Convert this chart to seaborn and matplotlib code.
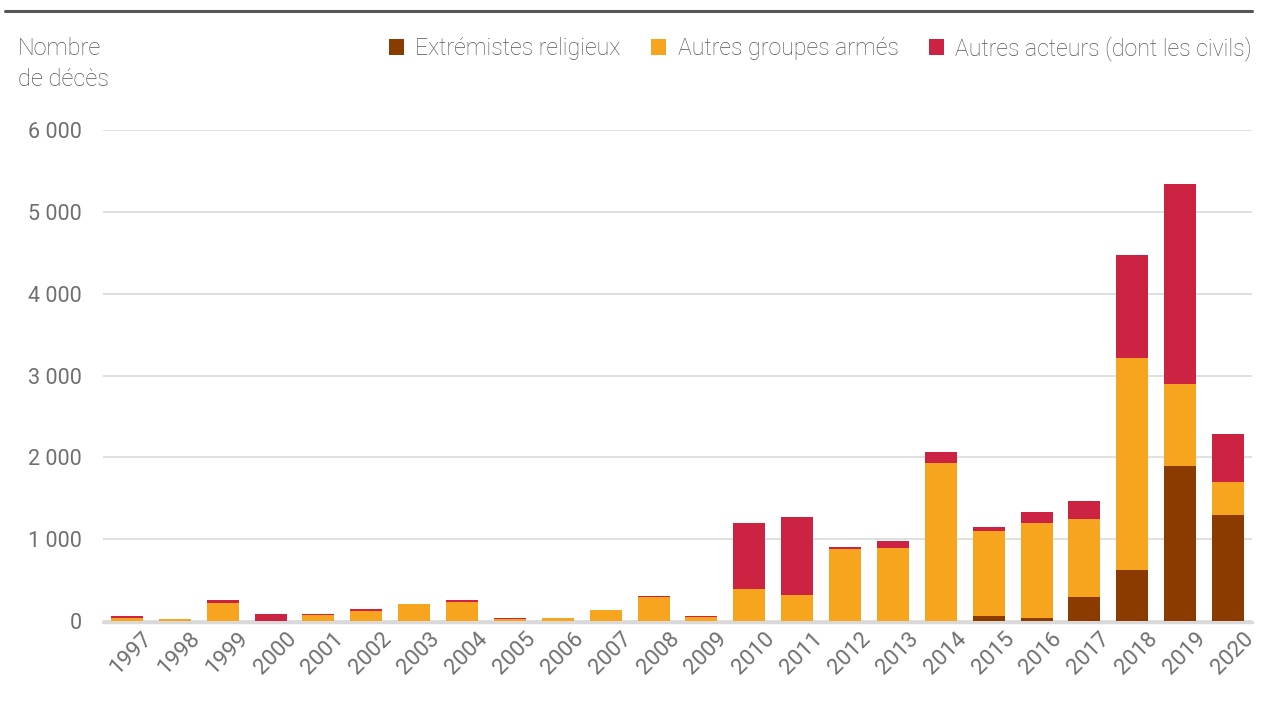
import matplotlib
matplotlib.use("Agg")
import matplotlib.pyplot as plt
import matplotlib.transforms as mtransforms
from matplotlib.lines import Line2D
from matplotlib.patches import Patch
import seaborn as sns
import numpy as np
import pandas as pd

# Données (nombre de décès par année et par acteur)
annees = [str(a) for a in range(1997, 2021)]
extremistes = [0, 0, 0, 0, 0, 0, 0, 0, 0, 0, 0, 0, 0, 0, 0, 0, 0, 0,
               60, 35, 290, 620, 1890, 1295]
groupes_armes = [35, 25, 220, 5, 75, 122, 210, 232, 20, 35, 130, 293, 50,
                 391, 318, 876, 888, 1934, 1040, 1160, 955, 2590, 1005, 405]
autres_acteurs = [25, 5, 37, 75, 10, 25, 0, 25, 15, 2, 0, 12, 7,
                  803, 953, 28, 86, 135, 49, 135, 220, 1260, 2445, 585]

series = ["Extrémistes religieux", "Autres groupes armés", "Autres acteurs (dont les civils)"]
couleurs = ["#8B3A00", "#F7A51E", "#CC2343"]

df = pd.DataFrame({"annee": annees,
                   "ext": extremistes,
                   "arm": groupes_armes,
                   "aut": autres_acteurs})
df["cum1"] = df["ext"]
df["cum2"] = df["ext"] + df["arm"]
df["cum3"] = df["cum2"] + df["aut"]

sns.set_style("white")
plt.rcParams["font.family"] = ["Roboto", "Liberation Sans", "DejaVu Sans"]
plt.rcParams["font.weight"] = "light"
gris = "#555555"
gris_ticks = "#6f6f6f"

fig = plt.figure(figsize=(12.62, 7.09), dpi=100)
ax = fig.add_axes([103 / 1262, 1 - 621 / 709, (1252 - 103) / 1262, (621 - 130) / 709])

# barres empilées (on superpose les cumuls)
for col, c in zip(["cum3", "cum2", "cum1"], couleurs[::-1]):
    sns.barplot(data=df, x="annee", y=col, color=c, width=0.67, ax=ax,
                saturation=1, linewidth=0, zorder=3)

ax.set_ylim(0, 6000)
ax.set_xlim(-0.5, 23.5)
ax.set_yticks(range(0, 6001, 1000))
ax.set_yticklabels(["0"] + [f"{v // 1000} 000" for v in range(1000, 6001, 1000)])
ax.yaxis.grid(True, color="#dddddd", linewidth=1.3, zorder=0)
ax.set_axisbelow(True)
ax.axhline(-12, color="#d9d9d9", linewidth=2.5, zorder=2, clip_on=False)
sns.despine(ax=ax, left=True, bottom=True)
ax.set_xlabel("")
ax.set_ylabel("")
ax.tick_params(axis="both", length=0, labelcolor=gris_ticks)
ax.tick_params(axis="y", pad=15, labelsize=15.5)
ax.tick_params(axis="x", pad=5, labelsize=16)

offset = mtransforms.ScaledTranslation(15 / 100, 0, fig.dpi_scale_trans)
for lab in ax.get_xticklabels():
    lab.set_rotation(45)
    lab.set_ha("right")
    lab.set_rotation_mode("anchor")
    lab.set_fontweight("normal")
    lab.set_transform(lab.get_transform() + offset)
for lab in ax.get_yticklabels():
    lab.set_fontweight("normal")

# titre de l'axe
fig.text(18 / 1262, 1 - 37 / 709, "Nombre\nde décès", ha="left", va="top",
         fontsize=17, color=gris, linespacing=1.45)

# légende
handles = [Patch(facecolor=c, edgecolor="none") for c in couleurs]
fig.legend(handles, series, loc="upper right", ncol=3,
           bbox_to_anchor=(1252 / 1262, 1 - 36 / 709), frameon=False,
           fontsize=16.7, labelcolor=gris, handlelength=0.65, handleheight=0.65,
           handletextpad=0.5, columnspacing=1.3, borderaxespad=0, borderpad=0)

# filet supérieur
fig.add_artist(Line2D([5 / 1262, 1252 / 1262], [1 - 11 / 709, 1 - 11 / 709],
                      color="#555555", linewidth=2.2, transform=fig.transFigure))

fig.savefig("out.png", dpi=100)
